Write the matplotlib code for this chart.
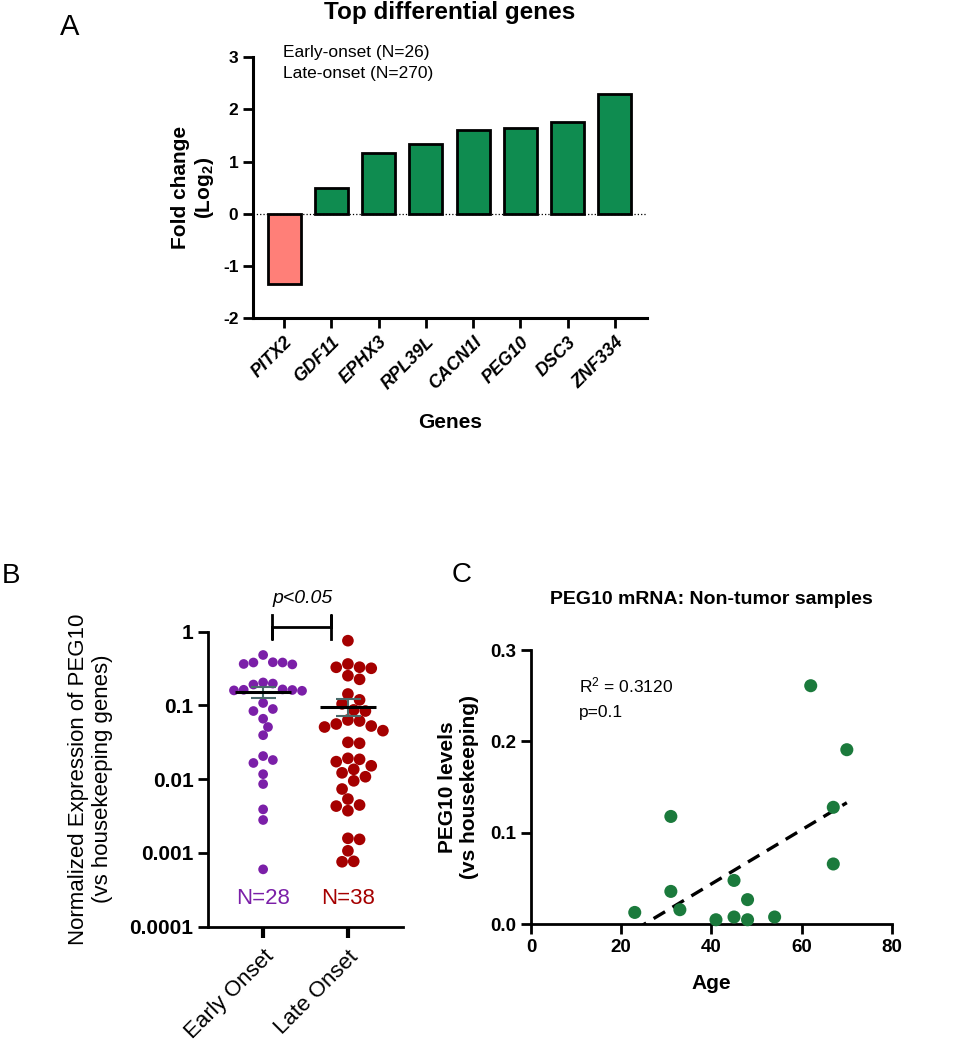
import numpy as np
import matplotlib
matplotlib.use("Agg")
import matplotlib.pyplot as plt
import matplotlib.transforms as mtransforms

plt.rcParams['font.family'] = ['Liberation Sans', 'DejaVu Sans']
plt.rcParams['mathtext.fontset'] = 'custom'
plt.rcParams['mathtext.rm'] = 'Liberation Sans'
plt.rcParams['mathtext.bf'] = 'Liberation Sans:bold'
plt.rcParams['mathtext.it'] = 'Liberation Sans:italic'
plt.rcParams['axes.unicode_minus'] = False

# --- data ---
genes = ['PITX2', 'GDF11', 'EPHX3', 'RPL39L', 'CACN1I', 'PEG10', 'DSC3', 'ZNF334']
fold_change = [-1.34, 0.50, 1.17, 1.34, 1.61, 1.64, 1.75, 2.29]

groups = ['Early Onset', 'Late Onset']
early_onset = [0.483, 0.382, 0.365, 0.385, 0.36, 0.382,
               0.205, 0.198, 0.192,
               0.162, 0.163, 0.160, 0.158, 0.165,
               0.108, 0.0895, 0.084, 0.066, 0.051, 0.0395,
               0.0206, 0.0182, 0.0166, 0.0117, 0.0086,
               0.0039, 0.0028, 0.0006]
late_onset = [0.755, 0.329, 0.330, 0.319, 0.365, 0.226, 0.253,
              0.143, 0.119, 0.105, 0.087, 0.084,
              0.0635, 0.0615, 0.056, 0.0526, 0.051, 0.0455,
              0.0307, 0.0316, 0.0173, 0.0192, 0.0186, 0.0136, 0.0152,
              0.0108, 0.0122, 0.0095, 0.00736, 0.00538,
              0.00447, 0.00432, 0.00374, 0.00158, 0.00153, 0.00107,
              0.00076, 0.00077]

age = [62, 70, 67, 67, 31, 31, 23, 33, 45, 48, 41, 45, 48, 54]
peg10_level = [0.261, 0.191, 0.128, 0.066, 0.118, 0.036, 0.013, 0.016,
               0.048, 0.027, 0.005, 0.008, 0.005, 0.008]

green = '#0f8c50'
salmon = '#ff7f78'
purple = '#7b1fa8'
darkred = '#a50000'
dotgreen = '#1b7a3c'

fig = plt.figure(figsize=(9.73, 10.5), dpi=100)

# ---------------- Panel A ----------------
axA = fig.add_axes([0.260, 0.697, 0.405, 0.2486])
xpos = np.arange(len(genes))
cols = [salmon if v < 0 else green for v in fold_change]
axA.bar(xpos, fold_change, width=0.7, color=cols, edgecolor='black', linewidth=2, zorder=2)
axA.axhline(0, color='black', lw=0.9, ls=':', zorder=3)
axA.set_xlim(-0.66, 7.68)
axA.set_ylim(-2, 3)
axA.set_yticks([-2, -1, 0, 1, 2, 3])
axA.set_xticks(xpos)
axA.set_xticklabels(genes, rotation=45, ha='right', rotation_mode='anchor',
                    fontsize=13, fontweight='bold', fontstyle='italic')
for lab in axA.get_yticklabels():
    lab.set_fontweight('bold')
axA.tick_params(axis='y', labelsize=12.5, width=2, length=7)
axA.tick_params(axis='x', width=2, length=7, pad=4)
for s in ['top', 'right']:
    axA.spines[s].set_visible(False)
for s in ['left', 'bottom']:
    axA.spines[s].set_linewidth(2.2)
axA.set_ylabel('Fold change\n(Log$_{\\mathbf{2}}$)', fontsize=15, fontweight='bold', labelpad=5)
axA.text(0.5, -0.40, 'Genes', transform=axA.transAxes, ha='center', va='center',
         fontsize=15, fontweight='bold')
axA.text(0.5, 1.172, 'Top differential genes', transform=axA.transAxes, ha='center',
         va='center', fontsize=17.5, fontweight='bold')
axA.text(0.076, 1.019, 'Early-onset (N=26)', transform=axA.transAxes, ha='left',
         va='center', fontsize=12.5)
axA.text(0.076, 0.939, 'Late-onset (N=270)', transform=axA.transAxes, ha='left',
         va='center', fontsize=12.5)

# ---------------- Panel B ----------------
axB = fig.add_axes([0.2138, 0.1174, 0.2004, 0.281])
axB.set_yscale('log')
axB.set_xlim(-0.65, 1.65)
axB.set_ylim(1e-4, 1)


def swarm(ax, values, center, diam_px):
    vals = np.asarray(values, dtype=float)
    disp = ax.transData.transform(np.column_stack([np.full(len(vals), center), vals]))
    ys = disp[:, 1]
    px_unit = (ax.transData.transform([[center + 1, 0.1]]) -
               ax.transData.transform([[center, 0.1]]))[0, 0]
    order = np.argsort(-vals)
    placed = []
    xs = np.zeros(len(vals))
    cands = [0.0]
    for k in range(1, 12):
        cands += [0.5 * k, -0.5 * k]
    for i in order:
        for c in cands:
            off = c * diam_px
            if all((px - off) ** 2 + (py - ys[i]) ** 2 >= (0.97 * diam_px) ** 2 for px, py in placed):
                break
        xs[i] = off
        placed.append((off, ys[i]))
    return center + xs / px_unit


for gi, (vals, col, ms, ntxt) in enumerate([(early_onset, purple, 7.0, 'N=28'),
                                             (late_onset, darkred, 8.4, 'N=38')]):
    xs = swarm(axB, vals, gi, ms * 100 / 72)
    axB.scatter(xs, vals, s=ms ** 2, color=col, edgecolors='none', zorder=2, clip_on=False)
    m = np.mean(vals)
    sem = np.std(vals, ddof=1) / np.sqrt(len(vals))
    axB.errorbar([gi], [m], yerr=[[sem], [sem]], fmt='none', ecolor='#4a6b6b',
                 elinewidth=1.5, capsize=9, capthick=1.5, zorder=3)
    axB.hlines(m, gi - 0.33, gi + 0.33, color='black', lw=2.2, zorder=4)
    axB.text(gi, 0.097, ntxt, transform=mtransforms.blended_transform_factory(axB.transData, axB.transAxes),
             ha='center', va='center', fontsize=16, color=col)

axB.set_xticks([0, 1])
axB.set_xticklabels(groups, rotation=45, ha='right', rotation_mode='anchor', fontsize=16)
axB.set_yticks([1e-4, 1e-3, 1e-2, 1e-1, 1])
axB.set_yticklabels(['0.0001', '0.001', '0.01', '0.1', '1'], fontsize=15, fontweight='bold')
axB.minorticks_off()
axB.tick_params(axis='y', width=2, length=7)
axB.tick_params(axis='x', width=3, length=8, pad=6)
for s in ['top', 'right']:
    axB.spines[s].set_visible(False)
for s in ['left', 'bottom']:
    axB.spines[s].set_linewidth(2)
axB.set_ylabel('Normalized Expression of PEG10\n(vs housekeeping genes)', fontsize=16,
               labelpad=12)
tB = mtransforms.blended_transform_factory(axB.transData, axB.transAxes)
axB.plot([0.106, 0.106, 0.106, 0.80, 0.80, 0.80], [1.0566, 0.9753, 1.0159, 1.0159, 1.0566, 0.9753],
         color='black', lw=2, transform=tB, clip_on=False)
axB.text(0.46, 1.114, 'p<0.05', transform=tB, ha='center', va='center', fontsize=14,
         fontstyle='italic')

# ---------------- Panel C ----------------
axC = fig.add_axes([0.5457, 0.1197, 0.371, 0.2612])
axC.scatter(age, peg10_level, s=9.4 ** 2, color=dotgreen, edgecolors='none', zorder=3, clip_on=False)
slope, intercept = np.polyfit(age, peg10_level, 1)
xfit = np.array([min(age), max(age)])
axC.plot(xfit, slope * xfit + intercept, color='black', lw=2.4, ls=(0, (4, 2.6)), zorder=2)
axC.set_xlim(0, 80)
axC.set_ylim(0, 0.3)
axC.set_xticks([0, 20, 40, 60, 80])
axC.set_yticks([0.0, 0.1, 0.2, 0.3])
axC.set_yticklabels(['0.0', '0.1', '0.2', '0.3'])
for lab in axC.get_xticklabels() + axC.get_yticklabels():
    lab.set_fontweight('bold')
axC.tick_params(labelsize=13.5, width=2, length=7)
for s in ['top', 'right']:
    axC.spines[s].set_visible(False)
for s in ['left', 'bottom']:
    axC.spines[s].set_linewidth(2)
axC.set_ylabel('PEG10 levels\n(vs housekeeping)', fontsize=15, fontweight='bold', labelpad=8)
axC.text(0.5, -0.214, 'Age', transform=axC.transAxes, ha='center', va='center',
         fontsize=15, fontweight='bold')
axC.text(0.5, 1.186, 'PEG10 mRNA: Non-tumor samples', transform=axC.transAxes,
         ha='center', va='center', fontsize=14, fontweight='bold')
axC.text(0.133, 0.872, 'R$^2$ = 0.3120', transform=axC.transAxes, ha='left', va='center',
         fontsize=12.5)
axC.text(0.133, 0.772, 'p=0.1', transform=axC.transAxes, ha='left', va='center', fontsize=12.5)

# panel letters
fig.text(70 / 973, 1 - 27 / 1050, 'A', fontsize=21, ha='center', va='center')
fig.text(11 / 973, 1 - 576 / 1050, 'B', fontsize=20, ha='center', va='center')
fig.text(462 / 973, 1 - 575 / 1050, 'C', fontsize=20, ha='center', va='center')

fig.savefig('out.png', dpi=100)
